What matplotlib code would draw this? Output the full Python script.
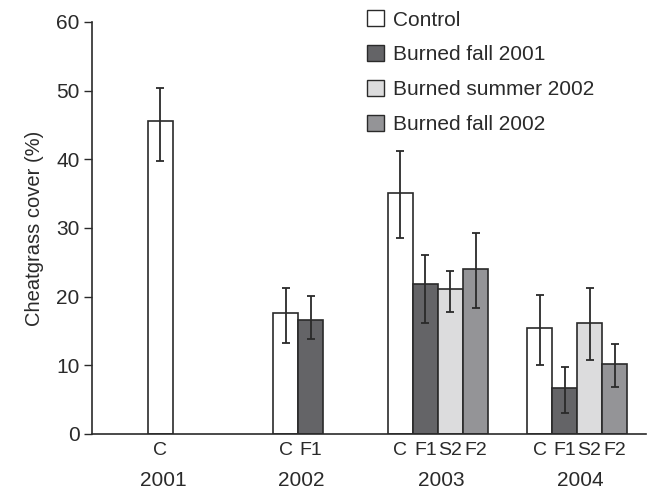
import matplotlib
matplotlib.use('Agg')
import matplotlib.pyplot as plt
from matplotlib.patches import Patch
import numpy as np

plt.rcParams['font.family'] = ['Liberation Sans', 'DejaVu Sans']

# mean cheatgrass cover and error bar ends (%) per year/treatment
years = ['2001', '2002', '2003', '2004']
labels = ['C', 'C', 'F1', 'C', 'F1', 'S2', 'F2', 'C', 'F1', 'S2', 'F2']
bar_year = ['2001', '2002', '2002', '2003', '2003', '2003', '2003',
            '2004', '2004', '2004', '2004']
cover = [45.6, 17.6, 16.6, 35.1, 21.9, 21.1, 24.0, 15.4, 6.7, 16.1, 10.2]
err_hi = [50.4, 21.3, 20.1, 41.2, 26.1, 23.8, 29.3, 20.3, 9.7, 21.2, 13.1]
err_lo = [39.7, 13.3, 13.8, 28.6, 16.2, 17.7, 18.4, 10.1, 3.1, 10.8, 6.8]

colors = {'C': 'white', 'F1': '#646467', 'S2': '#dcdcdd', 'F2': '#949497'}
legend_names = {'C': 'Control', 'F1': 'Burned fall 2001',
                'S2': 'Burned summer 2002', 'F2': 'Burned fall 2002'}

# bar positions (bar width = 1)
pos = np.array([2.72, 7.74, 8.74, 12.33, 13.33, 14.33, 15.35,
                17.9, 18.9, 19.9, 20.9])

fs = 15
ink = '#2a2a2a'

fig = plt.figure(figsize=(6.53, 4.93), dpi=100)
ax = fig.add_axes([0.1409, 0.1197, 0.8484, 0.8357])

cover = np.array(cover)
yerr = np.vstack([cover - np.array(err_lo), np.array(err_hi) - cover])

ax.bar(pos, cover, width=1.0, color=[colors[l] for l in labels],
       edgecolor=ink, linewidth=1.2)
ax.errorbar(pos, cover, yerr=yerr, fmt='none', ecolor=ink,
            elinewidth=1.3, capsize=3, capthick=1.3)

ax.set_xlim(0, 22.16)
ax.set_ylim(0, 60)
ax.set_yticks(range(0, 61, 10))
ax.tick_params(axis='y', direction='out', length=6, width=1, labelsize=fs,
               pad=3, color=ink, labelcolor=ink)
ax.set_xticks(pos)
ax.set_xticklabels(labels, fontsize=fs - 1, color=ink)
ax.tick_params(axis='x', length=0, pad=6)

for s in ['top', 'right']:
    ax.spines[s].set_visible(False)
for s in ['left', 'bottom']:
    ax.spines[s].set_linewidth(1.2)
    ax.spines[s].set_color(ink)

ax.set_ylabel('Cheatgrass cover (%)', fontsize=fs - 0.5, color=ink, labelpad=9)

# year labels under each group
bar_year = np.array(bar_year)
for yr in years:
    xc = pos[bar_year == yr].mean() + 0.12
    ax.text(xc, -0.113, yr, transform=ax.get_xaxis_transform(),
            ha='center', va='center', fontsize=fs, color=ink)

handles = [Patch(facecolor=colors[k], edgecolor=ink, linewidth=1.0,
                 label=legend_names[k]) for k in ['C', 'F1', 'S2', 'F2']]
ax.legend(handles=handles, loc='upper left', bbox_to_anchor=(0.562, 0.979),
          bbox_transform=fig.transFigure, frameon=False, fontsize=fs,
          handlelength=0.8, handleheight=0.8, handletextpad=0.45,
          labelspacing=0.75, borderpad=0, borderaxespad=0, labelcolor=ink)

fig.savefig('out.png', dpi=100)
